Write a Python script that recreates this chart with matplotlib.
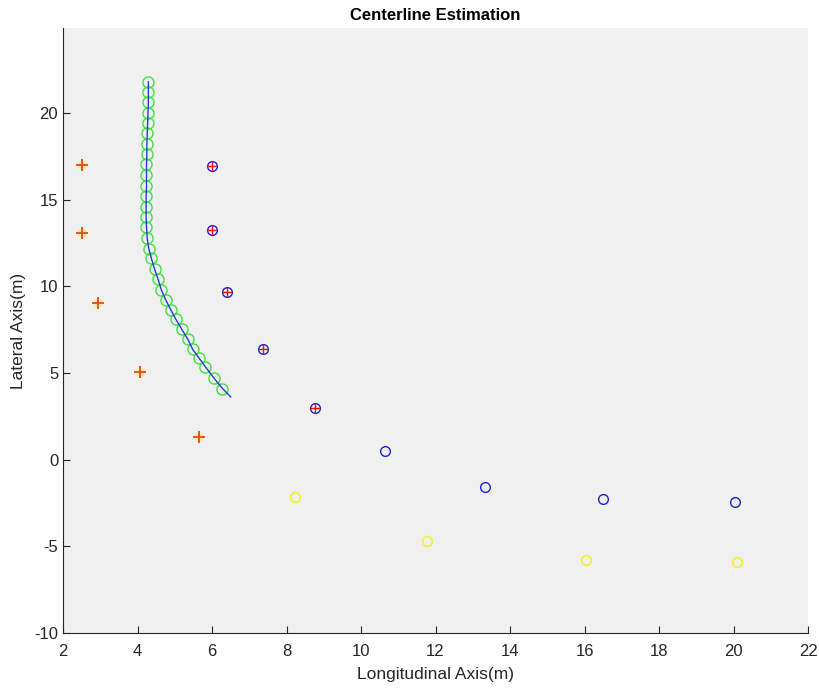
import numpy as np
import matplotlib.pyplot as plt

plt.rcParams['font.family'] = ['Liberation Sans', 'DejaVu Sans']
plt.rcParams['axes.unicode_minus'] = False

# estimated centerline points (green circles)
center_x = [4.29, 4.29, 4.29, 4.28, 4.27, 4.26, 4.25, 4.25, 4.24, 4.24, 4.24,
            4.23, 4.23, 4.23, 4.24, 4.26, 4.30, 4.37, 4.46, 4.55, 4.64, 4.76,
            4.89, 5.03, 5.19, 5.35, 5.48, 5.64, 5.82, 6.04, 6.28]
center_y = [21.81, 21.23, 20.62, 20.02, 19.41, 18.83, 18.21, 17.62, 17.04, 16.42,
            15.81, 15.21, 14.60, 14.02, 13.41, 12.77, 12.19, 11.62, 10.99, 10.42,
            9.79, 9.21, 8.66, 8.10, 7.52, 6.95, 6.37, 5.90, 5.37, 4.74, 4.11]

# fitted line (blue)
line_x = center_x + [6.50]
line_y = center_y + [3.63]

# left cones
left_x = [2.51, 2.51, 2.94, 4.07, 5.65]
left_y = [17.0, 13.08, 9.04, 5.06, 1.30]

# right cones
right_x = [6.0, 6.0, 6.40, 7.37, 8.77, 10.64, 13.33, 16.50, 20.04]
right_y = [16.94, 13.25, 9.67, 6.38, 2.98, 0.50, -1.58, -2.27, -2.45]
matched = 5  # first right cones that also got a red cross

# yellow cones
yel_x = [8.23, 11.77, 16.04, 20.09]
yel_y = [-2.16, -4.70, -5.79, -5.91]

fig = plt.figure(figsize=(8.19, 6.9), dpi=100)
ax = fig.add_axes([0.077, 0.0826, 0.9096, 0.8764])
ax.set_facecolor('#f0f0f0')

ax.plot(left_x, left_y, 'o', ms=7, mfc='#fbe6a8', mec='none')
ax.plot(left_x, left_y, '+', ms=8, mew=1.3, color='#e24a18')
ax.plot(right_x, right_y, 'o', ms=7, mfc='none', mec='#2020d0', mew=1.0)
ax.plot(right_x[:matched], right_y[:matched], '+', ms=7, mew=1.0, color='#e01010')
ax.plot(yel_x, yel_y, 'o', ms=7, mfc='none', mec='#f2f230', mew=1.2)
ax.plot(center_x, center_y, 'o', ms=8, mfc='none', mec='#40e040', mew=1.0)
ax.plot(line_x, line_y, '-', color='#1f3fd0', lw=1.0)

ax.set_xlim(2, 22)
ax.set_ylim(-10, 24.9)
ax.set_xticks(np.arange(2, 23, 2))
ax.set_yticks(np.arange(-10, 21, 5))
ax.spines['top'].set_visible(False)
ax.spines['right'].set_visible(False)
for s in ['left', 'bottom']:
    ax.spines[s].set_color('#262626')
ax.tick_params(direction='in', length=5, labelsize=12, colors='#262626')
ax.tick_params(axis='x', pad=8)
ax.set_xlabel('Longitudinal Axis(m)', fontsize=12.5, color='#262626', labelpad=6)
ax.set_ylabel('Lateral Axis(m)', fontsize=12.5, color='#262626', labelpad=6)
ax.set_title('Centerline Estimation', fontsize=12, fontweight='bold', pad=6)

plt.savefig('out.png', dpi=100)
